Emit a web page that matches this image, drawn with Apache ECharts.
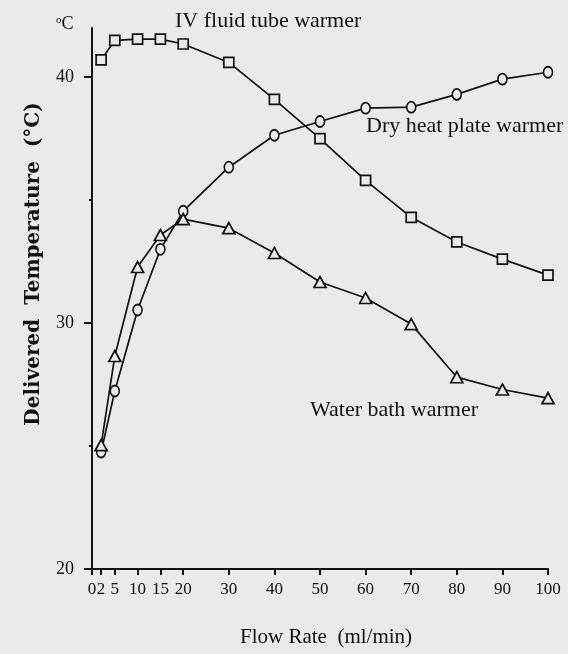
<!DOCTYPE html>
<html>
<head>
<meta charset="utf-8">
<script src="https://cdn.jsdelivr.net/npm/echarts@6/dist/echarts.min.js"></script>
<style>
html,body{margin:0;padding:0;background:#eaeaea;}
#chart{width:568px;height:654px;}
</style>
</head>
<body>
<div id="chart"></div>
<script>
// ---- data ----
var flowRate = [2, 5, 10, 15, 20, 30, 40, 50, 60, 70, 80, 90, 100];
var ivFluidTube = [40.7, 41.5, 41.55, 41.55, 41.35, 40.6, 39.1, 37.5, 35.8, 34.3, 33.3, 32.6, 31.95];
var dryHeatPlate = [24.76, 27.24, 30.53, 33.0, 34.55, 36.34, 37.64, 38.2, 38.74, 38.78, 39.3, 39.92, 40.2];
var waterBath = [25.04, 28.66, 32.28, 33.58, 34.23, 33.86, 32.85, 31.67, 31.02, 29.96, 27.8, 27.3, 26.95];
var xTicks = [0, 2, 5, 10, 15, 20, 30, 40, 50, 60, 70, 80, 90, 100];
var yMajorTicks = [20, 30, 40];
var yMinorTicks = [25, 35];

function pairs(xs, ys) { return xs.map(function (x, i) { return [x, ys[i]]; }); }

var serif = '"Liberation Serif", "Times New Roman", serif';
var bg = '#eaeaea';
var ink = '#111';

var chart = echarts.init(document.getElementById('chart'));
var markerStyle = { color: bg, borderColor: ink, borderWidth: 1.7 };
var lineStyle = { color: ink, width: 1.7 };

chart.setOption({
  backgroundColor: bg,
  animation: false,
  grid: { left: 92, right: 20, top: 28, bottom: 85, containLabel: false },
  xAxis: {
    type: 'value', min: 0, max: 100,
    splitLine: { show: false },
    axisLine: { lineStyle: { color: ink, width: 2 } },
    axisTick: { customValues: xTicks, length: 6, lineStyle: { color: ink, width: 2 } },
    axisLabel: { customValues: xTicks, color: ink, fontFamily: serif, fontSize: 17, margin: 12 }
  },
  yAxis: [{
    type: 'value', min: 20, max: 42,
    splitLine: { show: false },
    axisLine: { show: true, lineStyle: { color: ink, width: 2 } },
    axisTick: { customValues: yMajorTicks, length: 8, lineStyle: { color: ink, width: 2 } },
    axisLabel: { customValues: yMajorTicks, color: ink, fontFamily: serif, fontSize: 18, margin: 18 }
  }, {
    type: 'value', min: 20, max: 42, position: 'left',
    splitLine: { show: false },
    axisLine: { show: false },
    axisTick: { show: true, customValues: yMinorTicks, length: 3, lineStyle: { color: ink, width: 2 } },
    axisLabel: { show: false }
  }],
  series: [{
    name: 'IV fluid tube warmer', type: 'line', yAxisIndex: 0,
    data: pairs(flowRate, ivFluidTube),
    symbol: 'rect', symbolSize: 10, showAllSymbol: true,
    lineStyle: lineStyle, itemStyle: markerStyle, z: 3
  }, {
    name: 'Dry heat plate warmer', type: 'line', yAxisIndex: 0,
    data: pairs(flowRate, dryHeatPlate),
    symbol: 'circle', symbolSize: [9, 11], showAllSymbol: true,
    lineStyle: lineStyle, itemStyle: markerStyle, z: 4
  }, {
    name: 'Water bath warmer', type: 'line', yAxisIndex: 0,
    data: pairs(flowRate, waterBath),
    symbol: 'triangle', symbolSize: [12, 11], showAllSymbol: true,
    lineStyle: lineStyle, itemStyle: markerStyle, z: 5
  }],
  graphic: [
    { type: 'text', left: 175, top: 10, style: { text: 'IV fluid tube warmer', font: '22px ' + serif, fill: ink } },
    { type: 'text', left: 366, top: 115, style: { text: 'Dry heat plate warmer', font: '22px ' + serif, fill: ink } },
    { type: 'text', left: 310, top: 399, style: { text: 'Water bath warmer', font: '22px ' + serif, fill: ink } },
    { type: 'text', left: 240, top: 627, style: { text: 'Flow Rate  (ml/min)', font: '21px ' + serif, fill: ink } },
    { type: 'text', x: 34, y: 264, rotation: Math.PI / 2,
      style: { text: 'Delivered  Temperature  (°C)', font: 'bold 20px "DejaVu Serif", serif', fill: ink,
               align: 'center', verticalAlign: 'middle' } },
    { type: 'text', left: 56, top: 15, style: { text: '{s|o}C', fill: ink,
      rich: { s: { fontSize: 11, fontFamily: serif, verticalAlign: 'top', padding: [0, 0, 6, 0] } },
      font: '18px ' + serif } }
  ]
});
</script>
</body>
</html>
